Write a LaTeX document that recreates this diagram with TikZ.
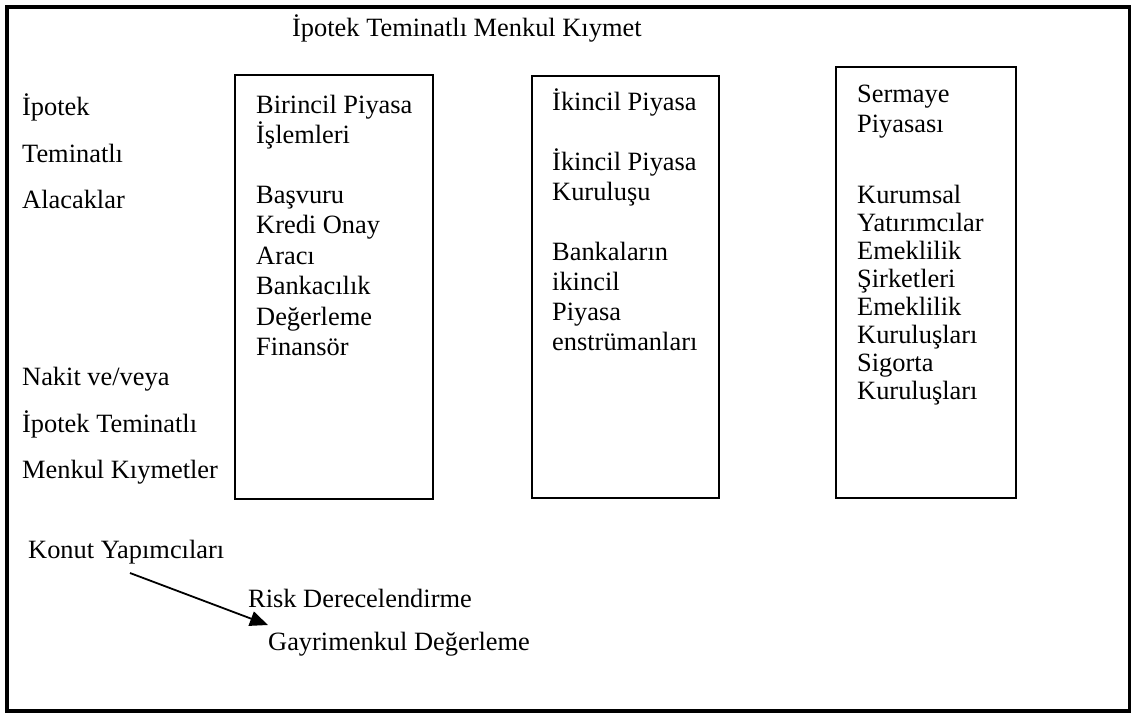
\documentclass[tikz,border=0pt]{standalone}
\usepackage{fontspec}
\setmainfont{Liberation Serif}
\usetikzlibrary{arrows.meta}
\begin{document}
\begin{tikzpicture}[x=1pt,y=-1pt,
  txt/.style={anchor=base west,inner sep=0pt,font=\fontsize{26.4}{30}\selectfont},
  panel/.style={draw,line width=1.6pt},
  frame/.style={draw,line width=4pt},
  link/.style={line width=1.8pt,-{Triangle[length=18pt,width=15pt]}}]
\useasboundingbox (0,0) rectangle (1131,713);
% outer frame
\draw[frame] (6.5,6.5) rectangle (1129.5,710.5);

% title
\node[txt] (title) at (292,36) {İpotek Teminatlı Menkul Kıymet};

% left column
\node[txt] (left1) at (22,115) {İpotek};
\node[txt] (left2) at (22,162) {Teminatlı};
\node[txt] (left3) at (22,208) {Alacaklar};
\node[txt] (left4) at (22,385) {Nakit ve/veya};
\node[txt] (left5) at (22,432) {İpotek Teminatlı};
\node[txt] (left6) at (22,478) {Menkul Kıymetler};

% three market boxes
\draw[panel] (235,75) rectangle (433,499);
\draw[panel] (532,76) rectangle (719,498);
\draw[panel] (836,67) rectangle (1016,498);

% primary market
\node[txt] (prim1) at (256,113) {Birincil Piyasa};
\node[txt] (prim2) at (256,143) {İşlemleri};
\node[txt] (prim3) at (256,203) {Başvuru};
\node[txt] (prim4) at (256,233) {Kredi Onay};
\node[txt] (prim5) at (256,264) {Aracı};
\node[txt] (prim6) at (256,294) {Bankacılık};
\node[txt] (prim7) at (256,325) {Değerleme};
\node[txt] (prim8) at (256,355) {Finansör};

% secondary market
\node[txt] (sec1) at (552,110) {İkincil Piyasa};
\node[txt] (sec2) at (552,170) {İkincil Piyasa};
\node[txt] (sec3) at (552,200) {Kuruluşu};
\node[txt] (sec4) at (552,260) {Bankaların};
\node[txt] (sec5) at (552,290) {ikincil};
\node[txt] (sec6) at (552,320) {Piyasa};
\node[txt] (sec7) at (552,350) {enstrümanları};

% capital market
\node[txt] (cap1) at (857,102) {Sermaye};
\node[txt] (cap2) at (857,132) {Piyasası};
\node[txt] (cap3) at (857,203) {Kurumsal};
\node[txt] (cap4) at (857,231) {Yatırımcılar};
\node[txt] (cap5) at (857,259) {Emeklilik};
\node[txt] (cap6) at (857,287) {Şirketleri};
\node[txt] (cap7) at (857,315) {Emeklilik};
\node[txt] (cap8) at (857,343) {Kuruluşları};
\node[txt] (cap9) at (857,371) {Sigorta};
\node[txt] (cap10) at (857,399) {Kuruluşları};

% bottom labels and arrow
\node[txt] (konut) at (28,558) {Konut Yapımcıları};
\node[txt] (risk) at (248,607) {Risk Derecelendirme};
\node[txt] (gayri) at (268,650) {Gayrimenkul Değerleme};
\coordinate (arrS) at (130,573);
\coordinate (arrE) at (268,625);
\draw[link] (arrS) -- (arrE);
\end{tikzpicture}
\end{document}
